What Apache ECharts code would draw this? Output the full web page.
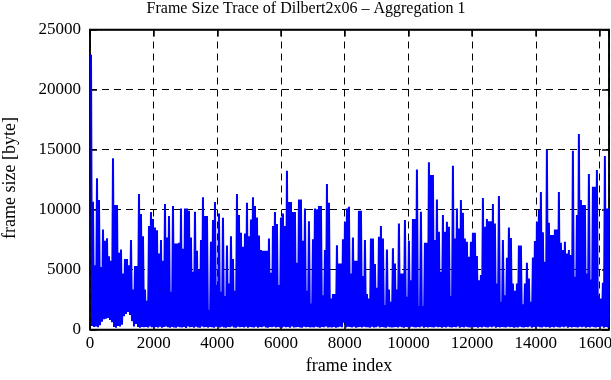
<!DOCTYPE html>
<html>
<head>
<meta charset="utf-8">
<script src="https://cdn.jsdelivr.net/npm/echarts@6/dist/echarts.min.js"></script>
<style>
html,body{margin:0;padding:0;background:#fff;}
#chart{width:611px;height:380px;}
</style>
</head>
<body>
<div id="chart"></div>
<script>
// Frame Size Trace of Dilbert2x06 – Aggregation 1
const titleText = "Frame Size Trace of Dilbert2x06 \u2013 Aggregation 1";
const xAxisName = "frame index";
const yAxisName = "frame size [byte]";
const xTicks = [0, 2000, 4000, 6000, 8000, 10000, 12000, 14000, 16000];
const yTicks = [0, 5000, 10000, 15000, 20000, 25000];
const frameCount = 16300;   // length of the trace (frames)
const frameStep = 62.8;     // frames between read-off peak samples

// peak frame size read per sample (one per frameStep frames)
const peakSize = [
  22900, 10650, 5360, 12600, 10800, 5200, 8340, 7400, 7600, 6100, 5730, 14260, 10370, 10370, 6400, 6670, 4670, 5870, 5870, 5360,
  7450, 3340, 5280, 5280, 11290, 9620, 7780, 3340, 2390, 8620, 9790, 9200, 8500, 8280, 6340, 7450, 5730, 10450, 7670, 9450,
  3140, 10290, 7170, 7170, 7230, 10090, 6730, 10090, 10090, 9900, 7670, 4810, 9810, 6560, 4950, 7450, 11010, 9450, 9450, 1610,
  7310, 9120, 10620, 3700, 9670, 3140, 9310, 2780, 7000, 3840, 7780, 5870, 3230, 11290, 9540, 8060, 6900, 8000, 10560, 7780,
  9170, 11010, 10290, 9340, 7840, 6620, 6560, 6560, 6560, 7590, 4730, 8620, 9790, 8790, 3700, 9340, 9670, 8620, 13220, 10620,
  10620, 9790, 9790, 5560, 10840, 10840, 7400, 10090, 3230, 9030, 2170, 7510, 10090, 10010, 10290, 10290, 2860, 6620, 12120, 10560,
  2590, 2950, 2950, 7030, 5500, 5500, 7510, 8980, 10090, 10230, 4670, 7670, 5730, 5730, 9900, 9900, 4450, 7450, 2950, 2590,
  7590, 7590, 5450, 3480, 7730, 8620, 7590, 2030, 6670, 3340, 2310, 6780, 5500, 3340, 8840, 4670, 4670, 9120, 2720, 7400,
  4110, 9200, 9200, 13340, 1950, 9810, 1950, 7230, 7230, 13930, 12870, 12870, 7450, 10840, 8150, 4810, 9540, 8150, 8980, 8560,
  2780, 13650, 7590, 10090, 8420, 10790, 9730, 7590, 7310, 6060, 7310, 8060, 8060, 6120, 4110, 4530, 10950, 8560, 9200, 9030,
  9030, 10450, 8840, 3840, 11120, 2310, 7450, 2860, 5980, 8500, 7620, 3840, 3230, 3840, 7000, 7000, 2110, 3840, 5560, 4250,
  2310, 6000, 7370, 8980, 9950, 11450, 8110, 5640, 14950, 8900, 7870, 7870, 8340, 8340, 11450, 7230, 6620, 7310, 6340, 6620,
  6200, 14900, 4390, 9540, 16290, 10790, 10370, 10370, 4670, 12950, 4170, 11900, 11900, 13290, 2860, 2590, 3900, 14460, 10090, 10090
];

// small frames between the peaks (trough frame size read near the base)
const troughSize = [
  300, 200, 250, 180, 350, 650, 850, 900, 950, 800, 600, 200, 150, 300, 250, 400, 1100, 1300, 1450, 1200,
  700, 250, 450, 200, 150, 200, 180, 220, 160, 250, 190, 140, 210, 170, 230, 150, 200, 260, 180, 140,
  220, 170, 150, 240, 190, 160, 210, 130, 250, 180, 200, 150, 230, 170, 140, 260, 190, 210, 160, 220,
  180, 140, 240, 200, 160, 230, 170, 150, 210, 190, 250, 160, 140, 220, 180, 200, 170, 240, 150, 210,
  190, 160, 230, 140, 200, 180, 260, 170, 150, 220, 190, 240, 160, 210, 170, 150, 230, 180, 200, 140,
  250, 170, 190, 220, 160, 150, 240, 180, 210, 170, 200, 160, 230, 190, 140, 220, 180, 250, 160, 200,
  170, 210, 150, 190, 240, 180, 560, 160, 220, 200, 170, 230, 150, 190, 210, 160, 240, 180, 200, 150,
  220, 170, 190, 250, 160, 210, 180, 140, 230, 200, 170, 190, 220, 160, 240, 180, 150, 210, 200, 170,
  230, 190, 160, 220, 180, 250, 150, 200, 170, 210, 190, 160, 240, 180, 220, 150, 200, 170, 230, 190,
  160, 210, 180, 250, 150, 200, 170, 220, 190, 160, 240, 180, 210, 150, 200, 170, 230, 190, 160, 220,
  180, 250, 150, 200, 170, 210, 190, 160, 240, 180, 220, 150, 200, 170, 230, 190, 160, 210, 180, 250,
  150, 200, 170, 220, 190, 160, 240, 180, 210, 150, 200, 170, 230, 190, 160, 220, 180, 250, 150, 200,
  170, 210, 190, 160, 240, 180, 220, 150, 200, 170, 230, 190, 160, 210, 180, 250, 150, 200, 170
];

// build the trace: peak, trough, peak, trough ...
const traceData = [];
for (let i = 0; i < peakSize.length; i++) {
  traceData.push([(i + 0.5) * frameStep, peakSize[i]]);
  if (i < troughSize.length) traceData.push([(i + 1) * frameStep, troughSize[i]]);
}

const FONT = "'Liberation Serif', 'DejaVu Serif', serif";
const xStepVal = xTicks[1] - xTicks[0];
const yStepVal = yTicks[1] - yTicks[0];
const tickFmt = v => ((v % xStepVal === 0 && v <= xTicks[xTicks.length - 1]) ? String(v) : '');

const axisCommon = {
  axisLine: {show: true, onZero: false, lineStyle: {color: '#000', width: 1.5}},
  axisTick: {show: true, inside: true, length: 7, lineStyle: {color: '#000', width: 1.5}}
};

const chart = echarts.init(document.getElementById('chart'), null, {renderer: 'canvas'});
chart.setOption({
  animation: false,
  backgroundColor: '#ffffff',
  grid: {left: 90, right: 2, top: 29.5, bottom: 50.5, containLabel: false, outerBoundsMode: 'none',
    show: true, borderColor: '#000', borderWidth: 1.5, backgroundColor: 'transparent'},
  xAxis: [Object.assign({
    type: 'value', min: xTicks[0], max: frameCount, interval: xStepVal, position: 'bottom',
    axisLabel: {color: '#000', fontFamily: FONT, fontSize: 17, margin: 6, formatter: tickFmt, hideOverlap: false},
    splitLine: {show: true, lineStyle: {color: '#000', width: 1, type: [7, 5]}}
  }, axisCommon), Object.assign({
    type: 'value', min: xTicks[0], max: frameCount, interval: xStepVal, position: 'top',
    axisLabel: {show: false}, splitLine: {show: false}
  }, axisCommon)],
  yAxis: [Object.assign({
    type: 'value', min: yTicks[0], max: yTicks[yTicks.length - 1], interval: yStepVal, position: 'left',
    axisLabel: {color: '#000', fontFamily: FONT, fontSize: 17, margin: 9, formatter: v => String(v)},
    splitLine: {show: true, lineStyle: {color: '#000', width: 1, type: [7, 5]}}
  }, axisCommon), Object.assign({
    type: 'value', min: yTicks[0], max: yTicks[yTicks.length - 1], interval: yStepVal, position: 'right',
    axisLabel: {show: false}, splitLine: {show: false}
  }, axisCommon)],
  series: [{
    type: 'line', xAxisIndex: 0, yAxisIndex: 0,
    data: traceData, showSymbol: false, symbol: 'none', sampling: null,
    lineStyle: {color: '#0000ff', width: 2}, clip: true, silent: true
  }],
  graphic: [
    {type: 'text', x: 306, y: 9, style: {text: titleText, font: "16px " + FONT, fill: '#000', align: 'center', verticalAlign: 'middle'}},
    {type: 'text', x: 349, y: 366, style: {text: xAxisName, font: "18px " + FONT, fill: '#000', align: 'center', verticalAlign: 'middle'}},
    {type: 'text', x: 10, y: 178, rotation: Math.PI / 2, style: {text: yAxisName, font: "18px " + FONT, fill: '#000', align: 'center', verticalAlign: 'middle'}}
  ]
});
</script>
</body>
</html>
